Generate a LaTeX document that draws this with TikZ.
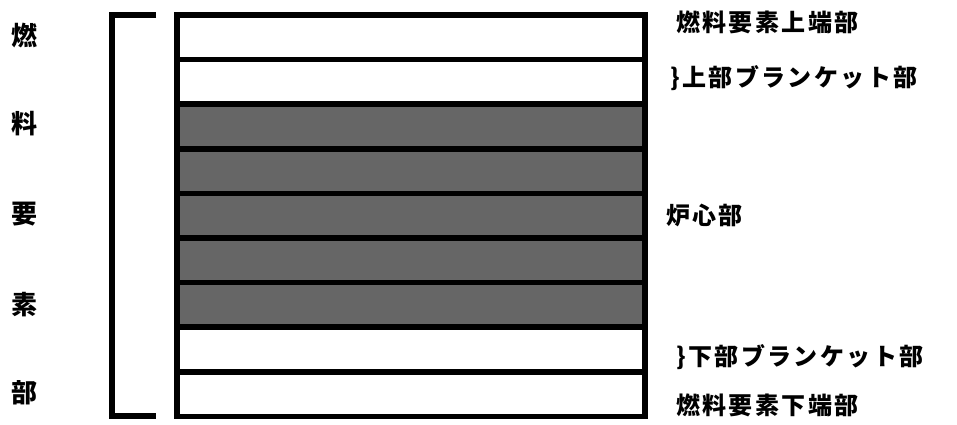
\documentclass[tikz,border=0pt]{standalone}
\usepackage{fontspec}
\newfontfamily\cjk{Noto Sans CJK JP}
\newfontfamily\cjkls{Noto Sans CJK JP}[LetterSpace=10]
\tikzset{
  rowbox/.style={draw=black, line width=5.5pt, minimum width=468pt, minimum height=44.6pt, inner sep=0pt, outer sep=0pt},
  corebox/.style={rowbox, fill=black!60},
  lbls/.style={font=\cjkls\bfseries\fontsize{24}{24}\selectfont, anchor=west, inner sep=0pt},
  vlbl/.style={font=\cjk\bfseries\fontsize{26}{26}\selectfont, inner sep=0pt},
  brk/.style={line width=5.5pt}
}
\begin{document}
\begin{tikzpicture}[x=1pt,y=-1pt]
\useasboundingbox (0,0) rectangle (957,424);
% rows
\foreach \i in {0,...,8}{
  \pgfmathsetmacro{\yc}{15+44.6*\i+22.3}
  \ifnum\i>1 \ifnum\i<7
    \node[corebox] (r\i) at (411,\yc) {};
  \else
    \node[rowbox] (r\i) at (411,\yc) {};
  \fi\else
    \node[rowbox] (r\i) at (411,\yc) {};
  \fi
}
% bracket
\coordinate (b1) at (156,15);
\coordinate (b2) at (112,15);
\coordinate (b3) at (112,416);
\coordinate (b4) at (156,416);
\draw[brk] (b1) -- (b2) -- (b3) -- (b4);
% left vertical label
\node[vlbl] (v1) at (25,36) {燃};
\node[vlbl] (v2) at (25,124) {料};
\node[vlbl] (v3) at (25,214) {要};
\node[vlbl] (v4) at (25,305) {素};
\node[vlbl] (v5) at (25,393) {部};
% right labels
\node[lbls] (t1) at (676,22) {燃料要素上端部};
\node[lbls] (t2) at (670,78) {\}上部ブランケット部};
\node[lbls] (t3) at (666,215) {炉心部};
\node[lbls] (t4) at (676,357) {\}下部ブランケット部};
\node[lbls] (t5) at (676,405) {燃料要素下端部};
\end{tikzpicture}
\end{document}
